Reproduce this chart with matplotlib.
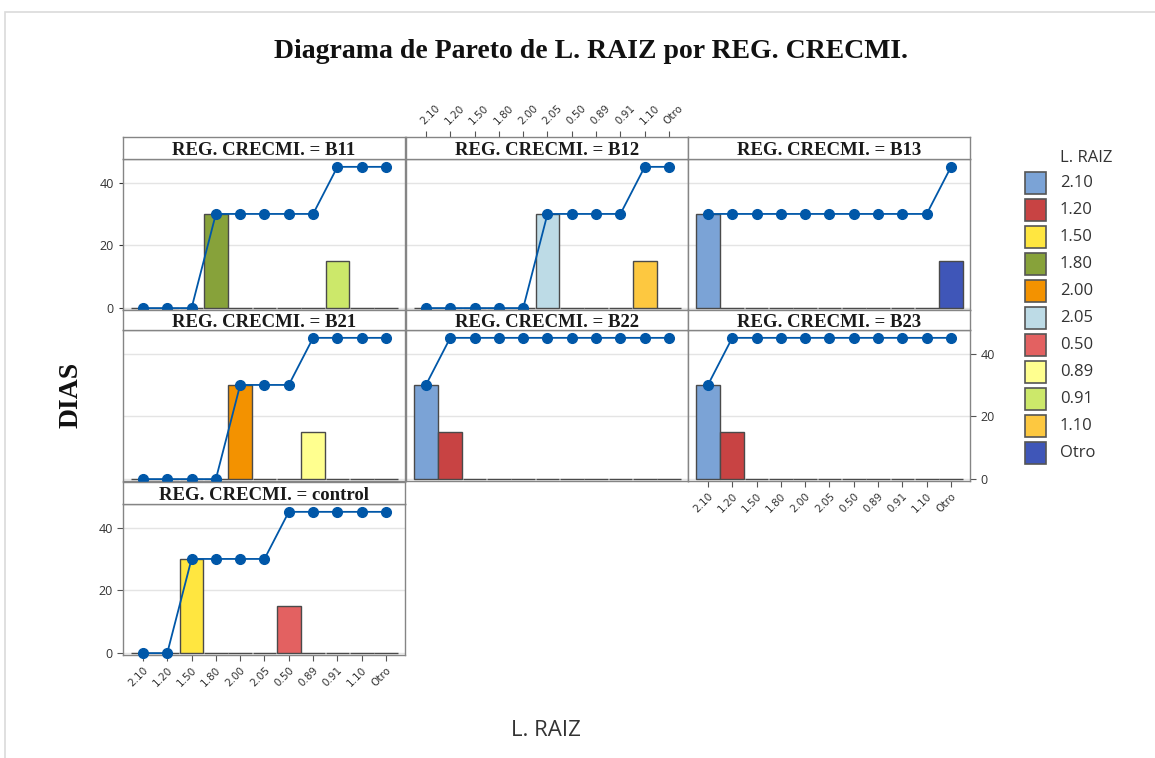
import numpy as np
import matplotlib
matplotlib.use('Agg')
from matplotlib import pyplot as plt
from matplotlib.patches import Rectangle

# categories of L. RAIZ (Pareto order) and their colours
categories = ['2.10', '1.20', '1.50', '1.80', '2.00', '2.05', '0.50', '0.89', '0.91', '1.10', 'Otro']
cat_colors = ['#7ba3d6', '#c84343', '#ffe640', '#87a23a', '#f39200', '#bddbe6',
              '#e36161', '#ffff8f', '#cce86a', '#fdc840', '#3f56b8']

# DIAS per category for each REG. CRECMI. group
b11 = [0, 0, 0, 30, 0, 0, 0, 0, 15, 0, 0]
b12 = [0, 0, 0, 0, 0, 30, 0, 0, 0, 15, 0]
b13 = [30, 0, 0, 0, 0, 0, 0, 0, 0, 0, 15]
b21 = [0, 0, 0, 0, 30, 0, 0, 15, 0, 0, 0]
b22 = [30, 15, 0, 0, 0, 0, 0, 0, 0, 0, 0]
b23 = [30, 15, 0, 0, 0, 0, 0, 0, 0, 0, 0]
control = [0, 0, 30, 0, 0, 0, 15, 0, 0, 0, 0]

groups = ['B11', 'B12', 'B13', 'B21', 'B22', 'B23', 'control']
values = [b11, b12, b13, b21, b22, b23, control]

W, H = 1155, 758
fig = plt.figure(figsize=(W / 100, H / 100), dpi=100)
fig.patch.set_facecolor('white')

LINE = '#0057a8'
FRAME = '#858585'

col_left = [123, 406, 688]
col_w = 282
# (strip top, strip bottom, plot bottom) in pixels
rows = [(137, 159, 310), (310, 330, 481), (482, 504, 655)]
cells = [(0, 0), (0, 1), (0, 2), (1, 0), (1, 1), (1, 2), (2, 0)]


def fig_rect(x0, y_top, w, y_bot):
    return [x0 / W, 1 - y_bot / H, w / W, (y_bot - y_top) / H]


x = np.arange(len(categories))
xlim = (-0.82, 10.78)

for g, vals, (r, c) in zip(groups, values, cells):
    st, sb, pb = rows[r]
    ax = fig.add_axes(fig_rect(col_left[c], sb, col_w, pb))
    sax = fig.add_axes(fig_rect(col_left[c], st, col_w, sb))

    ax.bar(x, vals, width=0.97, color=cat_colors, edgecolor='#4a4a4a', linewidth=1.0, zorder=2)
    ax.plot(x, np.cumsum(vals), color=LINE, lw=1.3, marker='o', ms=7, zorder=3, clip_on=False)
    ax.set_xlim(*xlim)
    ax.set_ylim(-0.6, 47.5)
    ax.set_yticks([0, 20, 40])
    ax.set_xticks(x)
    ax.yaxis.grid(True, color='#e4e4e4', lw=1)
    ax.set_axisbelow(True)
    ax.tick_params(left=False, bottom=False, labelleft=False, labelbottom=False,
                   colors='#333333', labelsize=9, length=3)
    for s in ax.spines.values():
        s.set_color(FRAME)
        s.set_linewidth(1)

    sax.set_xlim(*xlim)
    sax.set_xticks(x)
    sax.set_yticks([])
    sax.tick_params(bottom=False, labelbottom=False)
    for s in sax.spines.values():
        s.set_color(FRAME)
        s.set_linewidth(1)
    sax.text(0.5, 0.38, f'REG. CRECMI. = {g}', transform=sax.transAxes, ha='center', va='center',
             family='Liberation Serif', weight='bold', fontsize=13.5, color='#1a1a1a')

    if c == 0 and r in (0, 2):
        ax.tick_params(left=True, labelleft=True)
        for t in ax.get_yticklabels():
            t.set_family('Open Sans')
    if g == 'B23':
        ax.yaxis.tick_right()
        ax.tick_params(right=True, labelright=True, left=False, labelleft=False)
        for t in ax.get_yticklabels():
            t.set_family('Open Sans')
    if g in ('control', 'B23'):
        ax.tick_params(bottom=True, labelbottom=True, color='#555555', length=4)
        ax.set_xticklabels(categories, rotation=45, ha='right', va='top',
                           rotation_mode='anchor', fontsize=7.5, family='DejaVu Sans')
    if g == 'B12':
        sax.tick_params(top=True, labeltop=True, color='#555555', length=4, colors='#333333')
        sax.set_xticklabels(categories, rotation=45, ha='left', va='bottom',
                            rotation_mode='anchor', fontsize=7.5, family='DejaVu Sans')

# titles and axis labels
fig.text(591 / W, 1 - 52 / H, 'Diagrama de Pareto de L. RAIZ por REG. CRECMI.', ha='center', va='center',
         family='Liberation Serif', weight='bold', fontsize=20, color='#111111')
fig.text(71 / W, 1 - 395 / H, 'DIAS', rotation=90, ha='center', va='center',
         family='Liberation Serif', weight='bold', fontsize=20, color='#111111')
fig.text(546 / W, 1 - 730 / H, 'L. RAIZ', ha='center', va='center',
         family='Open Sans', fontsize=16, color='#333333')

# legend
fig.text(1060 / W, 1 - 158 / H, 'L. RAIZ', ha='left', va='center',
         family='Open Sans', fontsize=12, color='#333333')
for i, (lab, col) in enumerate(zip(categories, cat_colors)):
    yc = 183 + i * 27
    fig.add_artist(Rectangle((1025 / W, 1 - (yc + 11) / H), 21 / W, 22 / H, transform=fig.transFigure,
                             facecolor=col, edgecolor='#555555', lw=1.2))
    fig.text(1060 / W, 1 - yc / H, lab, ha='left', va='center',
             family='Open Sans', fontsize=12, color='#333333')

# outer frame
fig.add_artist(Rectangle((5 / W, -0.01), 1.0, 1 - 12 / H + 0.01, transform=fig.transFigure,
                         fill=False, edgecolor='#dadada', lw=1.2))

fig.savefig('out.png', dpi=100, facecolor='white')
